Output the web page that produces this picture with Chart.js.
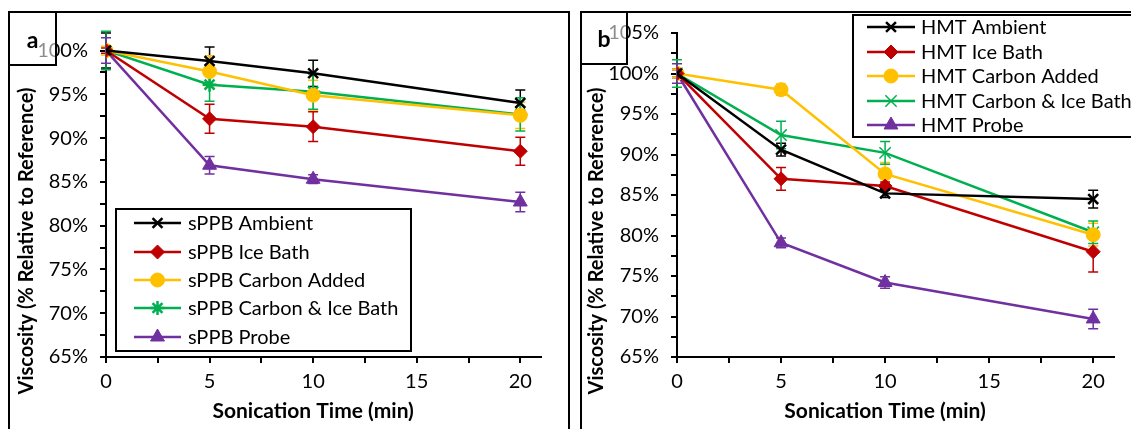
<!DOCTYPE html>
<html>
<head>
<meta charset="utf-8">
<script src="https://cdn.jsdelivr.net/npm/chart.js@4/dist/chart.umd.min.js"></script>
<style>
  body { margin: 0; background: #fff; width: 1131px; height: 429px; overflow: hidden; position: relative; }
  .frame { position: absolute; border: 2px solid #000; box-sizing: border-box; }
  .tag { position: absolute; border: 2px solid #000; box-sizing: border-box; background: rgba(255,255,255,0.55);
         font: bold 23px Lato, sans-serif; display: flex; align-items: center; justify-content: center; z-index: 5; }
  canvas { position: absolute; top: 0; }
</style>
</head>
<body>
<div class="frame" style="left:8px;top:11px;width:562px;height:440px"></div>
<div class="frame" style="left:580px;top:11px;width:570px;height:440px"></div>
<canvas id="chartA" width="570" height="429" style="left:0px"></canvas>
<canvas id="chartB" width="559" height="429" style="left:572px"></canvas>
<div class="tag" style="left:8px;top:11px;width:49px;height:55px">a</div>
<div class="tag" style="left:580px;top:11px;width:48px;height:54px">b</div>
<script>
// sonication time (min)
const times = [0, 5, 10, 20];
const xTicks = [0, 2.5, 5, 7.5, 10, 12.5, 15, 17.5, 20];
const yTicksA = [65, 67.5, 70, 72.5, 75, 77.5, 80, 82.5, 85, 87.5, 90, 92.5, 95, 97.5, 100];
const yTicksB = [65, 67.5, 70, 72.5, 75, 77.5, 80, 82.5, 85, 87.5, 90, 92.5, 95, 97.5, 100, 102.5, 105];

// panel a - sPPB
const labelsA = ['sPPB Ambient', 'sPPB Ice Bath', 'sPPB Carbon Added', 'sPPB Carbon & Ice Bath', 'sPPB Probe'];
const sppbAmbient   = [100, 98.8, 97.4, 94.0];
const sppbIce       = [100, 92.2, 91.3, 88.5];
const sppbCarbon    = [100, 97.6, 94.9, 92.6];
const sppbCarbonIce = [100, 96.1, 95.3, 92.7];
const sppbProbe     = [100, 86.9, 85.3, 82.7];
const sppbAmbientErr   = [2.0, 1.6, 1.5, 1.5];
const sppbIceErr       = [0.3, 1.65, 1.7, 1.6];
const sppbCarbonErr    = [0.5, 1.8, 1.7, 1.5];
const sppbCarbonIceErr = [2.2, 1.9, 2.0, 1.9];
const sppbProbeErr     = [1.45, 1.0, 0.5, 1.1];

// panel b - HMT
const labelsB = ['HMT Ambient', 'HMT Ice Bath', 'HMT Carbon Added', 'HMT Carbon & Ice Bath', 'HMT Probe'];
const hmtAmbient   = [100, 90.6, 85.2, 84.5];
const hmtIce       = [100, 87.0, 86.1, 78.0];
const hmtCarbon    = [100, 98.0, 87.6, 80.1];
const hmtCarbonIce = [100, 92.4, 90.2, 80.4];
const hmtProbe     = [100, 79.1, 74.2, 69.7];
const hmtAmbientErr   = [0.5, 0.8, 0.5, 1.1];
const hmtIceErr       = [0.5, 1.4, 0.5, 2.5];
const hmtCarbonErr    = [0.5, 0.7, 1.4, 1.4];
const hmtCarbonIceErr = [1.7, 1.7, 1.4, 1.4];
const hmtProbeErr     = [1.2, 0.6, 0.7, 1.2];

const FONT = 'Lato, sans-serif';
const colors = ['#000000', '#C00000', '#FFC000', '#00B050', '#7030A0'];

function series(label, vals, i, style, radius, bw) {
  return {
    label: label,
    data: times.map((t, j) => ({ x: t, y: vals[j] })),
    borderColor: colors[i],
    backgroundColor: colors[i],
    pointBackgroundColor: colors[i],
    pointBorderColor: colors[i],
    pointStyle: style,
    pointRadius: radius,
    pointBorderWidth: bw,
    borderWidth: 2.5,
    tension: 0
  };
}

// error bars, axis titles and the boxed legend
const extras = {
  id: 'extras',
  beforeDatasetsDraw(chart, args, opts) {
    const ctx = chart.ctx, xs = chart.scales.x, ys = chart.scales.y;
    ctx.save();
    chart.data.datasets.forEach((ds, i) => {
      ctx.strokeStyle = ds.borderColor;
      ctx.lineWidth = 1.5;
      opts.errors[i].forEach((e, j) => {
        const v = ds.data[j].y;
        const x = xs.getPixelForValue(times[j]);
        const y1 = ys.getPixelForValue(v + e), y2 = ys.getPixelForValue(v - e);
        ctx.beginPath();
        ctx.moveTo(x, y1); ctx.lineTo(x, y2);
        ctx.moveTo(x - 5, y1); ctx.lineTo(x + 5, y1);
        ctx.moveTo(x - 5, y2); ctx.lineTo(x + 5, y2);
        ctx.stroke();
      });
    });
    ctx.restore();
  },
  afterDraw(chart, args, opts) {
    const ctx = chart.ctx, xs = chart.scales.x;
    ctx.save();
    ctx.fillStyle = '#000';
    ctx.font = 'bold 21px ' + FONT;
    ctx.textAlign = 'center';
    ctx.textBaseline = 'middle';
    ctx.fillText('Sonication Time (min)', xs.getPixelForValue(10), 411);
    ctx.font = 'bold 20px ' + FONT;
    ctx.translate(opts.yTitleX, 241);
    ctx.rotate(-Math.PI / 2);
    ctx.fillText('Viscosity (% Relative to Reference)', 0, 0);
    ctx.restore();

    const L = opts.legend;
    ctx.save();
    ctx.fillStyle = '#fff';
    ctx.fillRect(L.x, L.y, L.w, L.h);
    ctx.strokeStyle = '#000';
    ctx.lineWidth = 2;
    ctx.strokeRect(L.x, L.y, L.w, L.h);
    chart.data.datasets.forEach((ds, i) => {
      const y = L.rows[i];
      ctx.strokeStyle = ds.borderColor;
      ctx.lineWidth = 2.5;
      ctx.beginPath();
      ctx.moveTo(L.x1, y); ctx.lineTo(L.x2, y);
      ctx.stroke();
      ctx.fillStyle = ds.pointBackgroundColor;
      ctx.lineWidth = ds.pointBorderWidth;
      Chart.helpers.drawPoint(ctx, { pointStyle: ds.pointStyle, radius: ds.pointRadius, rotation: 0, borderWidth: ds.pointBorderWidth }, (L.x1 + L.x2) / 2, y);
      ctx.fillStyle = '#000';
      ctx.font = '20px ' + FONT;
      ctx.textAlign = 'left';
      ctx.textBaseline = 'middle';
      ctx.fillText(ds.label, L.tx, y + 1);
    });
    ctx.restore();
  }
};

function makeScales(yMax, yTicks, yWidth) {
  const axisGrid = { drawOnChartArea: false, drawTicks: true, tickLength: 6, color: '#000', lineWidth: 2 };
  return {
    x: {
      type: 'linear', min: 0, max: 21,
      afterBuildTicks: s => { s.ticks = xTicks.map(v => ({ value: v })); },
      afterFit: s => { s.height = 72; },
      grid: axisGrid,
      border: { display: true, color: '#000', width: 2 },
      ticks: { autoSkip: false, maxRotation: 0, color: '#000', padding: 7, font: { family: FONT, size: 20 },
               callback: v => (v % 5 === 0 ? v : '') }
    },
    y: {
      min: 65, max: yMax,
      afterBuildTicks: s => { s.ticks = yTicks.map(v => ({ value: v })); },
      afterFit: s => { s.width = yWidth; },
      grid: axisGrid,
      border: { display: true, color: '#000', width: 2 },
      ticks: { autoSkip: false, color: '#000', padding: 12, font: { family: FONT, size: 20 },
               callback: v => (v % 5 === 0 ? v + '%' : '') }
    }
  };
}

const chartA = new Chart(document.getElementById('chartA'), {
  type: 'line',
  data: {
    datasets: [
      series(labelsA[0], sppbAmbient, 0, 'crossRot', 7, 2.5),
      series(labelsA[1], sppbIce, 1, 'rectRot', 7, 1),
      series(labelsA[2], sppbCarbon, 2, 'circle', 7, 1),
      series(labelsA[3], sppbCarbonIce, 3, 'star', 7, 2.5),
      series(labelsA[4], sppbProbe, 4, 'triangle', 8, 1)
    ]
  },
  options: {
    responsive: false, animation: false, devicePixelRatio: 1,
    layout: { padding: { left: 0, right: 29, top: 33, bottom: 0 } },
    scales: makeScales(102, yTicksA, 106),
    plugins: {
      legend: { display: false }, tooltip: { enabled: false },
      extras: {
        errors: [sppbAmbientErr, sppbIceErr, sppbCarbonErr, sppbCarbonIceErr, sppbProbeErr],
        yTitleX: 27,
        legend: { x: 116, y: 209, w: 295, h: 142, rows: [223, 252, 280, 308, 337], x1: 134, x2: 181, tx: 188 }
      }
    }
  },
  plugins: [extras]
});

const chartB = new Chart(document.getElementById('chartB'), {
  type: 'line',
  data: {
    datasets: [
      series(labelsB[0], hmtAmbient, 0, 'crossRot', 7, 2.5),
      series(labelsB[1], hmtIce, 1, 'rectRot', 7, 1),
      series(labelsB[2], hmtCarbon, 2, 'circle', 7, 1),
      series(labelsB[3], hmtCarbonIce, 3, 'crossRot', 8, 1.5),
      series(labelsB[4], hmtProbe, 4, 'triangle', 8, 1)
    ]
  },
  options: {
    responsive: false, animation: false, devicePixelRatio: 1,
    layout: { padding: { left: 0, right: 17, top: 33, bottom: 0 } },
    scales: makeScales(105, yTicksB, 105),
    plugins: {
      legend: { display: false }, tooltip: { enabled: false },
      extras: {
        errors: [hmtAmbientErr, hmtIceErr, hmtCarbonErr, hmtCarbonIceErr, hmtProbeErr],
        yTitleX: 25,
        legend: { x: 281, y: 15, w: 300, h: 122, rows: [27, 52, 76, 101, 125], x1: 295, x2: 343, tx: 349 }
      }
    }
  },
  plugins: [extras]
});
</script>
</body>
</html>
